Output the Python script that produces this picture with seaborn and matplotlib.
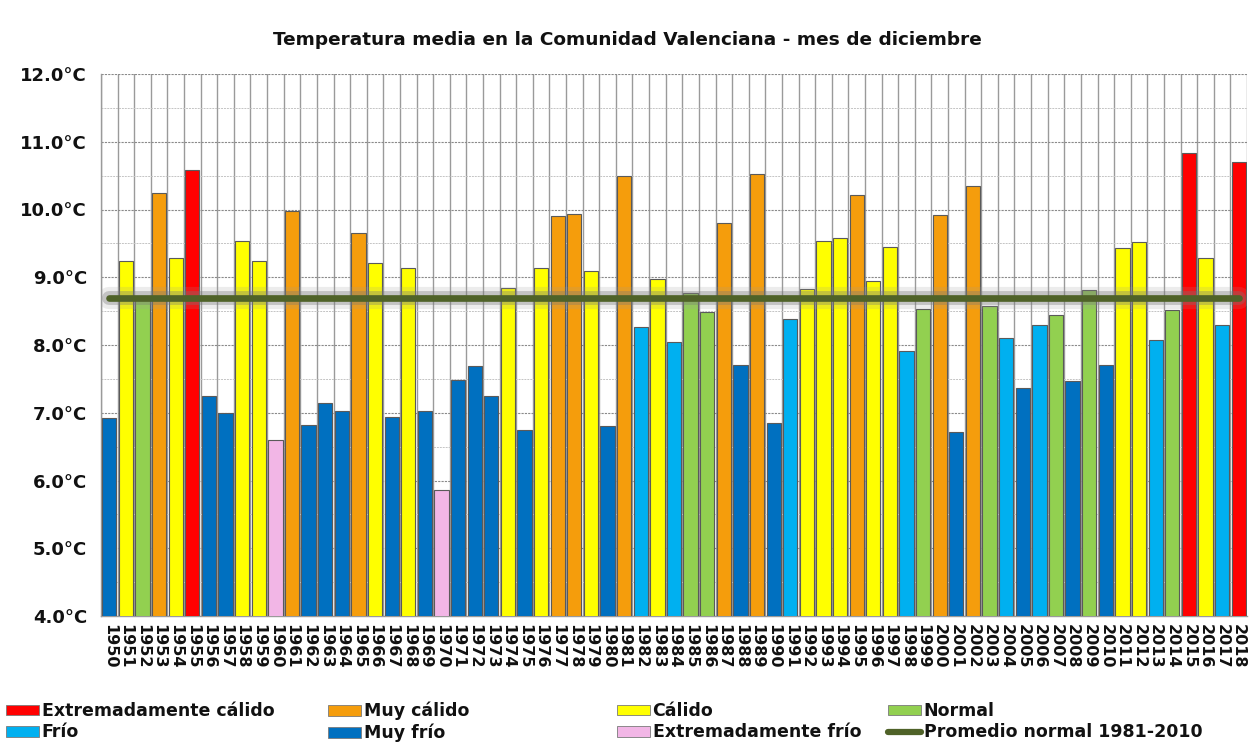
import numpy as np
import pandas as pd
import matplotlib
matplotlib.use("Agg")
import matplotlib.pyplot as plt
import matplotlib.patheffects as pe
from matplotlib.patches import Patch
from matplotlib.lines import Line2D
from matplotlib.ticker import MultipleLocator, FixedLocator
import seaborn as sns

# ---------------- data ----------------
years = list(range(1950, 2019))
temps = [6.92, 9.24, 8.72, 10.24, 9.28, 10.59, 7.25, 6.99, 9.53, 9.24,
         6.60, 9.98, 6.82, 7.14, 7.02, 9.65, 9.21, 6.94, 9.14, 7.03,
         5.86, 7.48, 7.69, 7.25, 8.84, 6.75, 9.13, 9.91, 9.93, 9.09,
         6.80, 10.50, 8.27, 8.98, 8.04, 8.77, 8.49, 9.80, 7.71, 10.53,
         6.85, 8.38, 8.83, 9.54, 9.58, 10.21, 8.95, 9.45, 7.91, 8.53,
         9.92, 6.72, 10.35, 8.57, 8.11, 7.36, 8.30, 8.45, 7.47, 8.81,
         7.71, 9.43, 9.52, 8.08, 8.51, 10.84, 9.28, 8.30, 10.70]
cats = ["MF", "C", "N", "MC", "C", "EC", "MF", "MF", "C", "C",
        "EF", "MC", "MF", "MF", "MF", "MC", "C", "MF", "C", "MF",
        "EF", "MF", "MF", "MF", "C", "MF", "C", "MC", "MC", "C",
        "MF", "MC", "F", "C", "F", "N", "N", "MC", "MF", "MC",
        "MF", "F", "C", "C", "C", "MC", "C", "C", "F", "N",
        "MC", "MF", "MC", "N", "F", "MF", "F", "N", "MF", "N",
        "MF", "C", "C", "F", "N", "EC", "C", "F", "EC"]
normal_value = 8.70

cat_labels = {"EC": "Extremadamente cálido", "MC": "Muy cálido", "C": "Cálido",
              "N": "Normal", "F": "Frío", "MF": "Muy frío",
              "EF": "Extremadamente frío"}
cat_colors = {"EC": "#ff0000", "MC": "#f59d0c", "C": "#ffff00",
              "N": "#92d050", "F": "#00b0f0", "MF": "#0070c0",
              "EF": "#f2b6e6"}
line_color = "#4f6228"
title = "Temperatura media en la Comunidad Valenciana - mes de diciembre"
line_label = "Promedio normal 1981-2010"
ytick_vals = [4.0, 5.0, 6.0, 7.0, 8.0, 9.0, 10.0, 11.0, 12.0]

df = pd.DataFrame({"year": [str(y) for y in years], "temp": temps, "cat": cats})

# ---------------- figure ----------------
sns.set_theme(style="white")
plt.rcParams["font.family"] = ["DejaVu Sans"]
fig = plt.figure(figsize=(12.54, 7.42), dpi=100)
ax = fig.add_axes([101/1254, 1 - 616/742, (1247-101)/1254, (616-74)/742])

sns.barplot(data=df, x="year", y="temp", hue="cat", palette=cat_colors,
            dodge=False, width=0.86, ax=ax, legend=False, saturation=1,
            edgecolor="#5a5a5a", linewidth=0.8, zorder=3)

ax.set_xlim(-0.5, len(years) - 0.5)
ax.set_ylim(4.0, 12.0)

# gridlines
ax.yaxis.set_major_locator(FixedLocator(ytick_vals))
ax.yaxis.set_minor_locator(MultipleLocator(0.5))
ax.set_yticklabels([f"{v:.1f}°C" for v in ytick_vals], fontsize=13,
                   fontweight="bold", color="#111111")
ax.grid(axis="y", which="major", color="#8a8a8a", linestyle=(0, (2, 1)),
        linewidth=0.8, zorder=0)
ax.grid(axis="y", which="minor", color="#c4c4c4", linestyle=(0, (2, 1)),
        linewidth=0.7, zorder=0)
ax.xaxis.set_minor_locator(FixedLocator(np.arange(-0.5, len(years), 1.0)))
ax.grid(axis="x", which="minor", color="#9a9a9a", linestyle="-",
        linewidth=1.0, zorder=1)
ax.grid(axis="x", which="major", visible=False)

ax.tick_params(axis="x", which="major", length=0, pad=6)
ax.tick_params(axis="x", which="minor", length=6, color="#9a9a9a", width=1)
ax.tick_params(axis="y", which="major", length=6, color="#9a9a9a", width=1, pad=4)
ax.tick_params(axis="y", which="minor", length=0)
for lab in ax.get_xticklabels():
    lab.set_rotation(-90)
    lab.set_fontsize(11.5)
    lab.set_fontweight("bold")
    lab.set_color("#111111")
    lab.set_va("top")
    lab.set_ha("center")

for side in ["top", "right"]:
    ax.spines[side].set_visible(False)
for side in ["left", "bottom"]:
    ax.spines[side].set_color("#9a9a9a")
    ax.spines[side].set_linewidth(1.0)
ax.set_xlabel("")
ax.set_ylabel("")

# normal line
ax.plot([0, len(years) - 1], [normal_value, normal_value], color=line_color,
        linewidth=4.8, solid_capstyle="round", zorder=5,
        path_effects=[pe.Stroke(linewidth=16, foreground="#9a9a9a", alpha=0.18),
                      pe.Stroke(linewidth=10, foreground="#777777", alpha=0.35),
                      pe.Normal()])

fig.text(0.5, 1 - 40/742, title, ha="center", va="center", fontsize=13.3,
         fontweight="bold", color="#111111")

# legend (4 columns x 2 rows)
groups = [["EC", "F"], ["MC", "MF"], ["C", "EF"], ["N", None]]
xs = [6/1254, 328/1254, 617/1254, 888/1254]
for keys, x in zip(groups, xs):
    handles = []
    for k in keys:
        if k is None:
            handles.append(Line2D([0], [0], color=line_color, linewidth=4.5,
                                  label=line_label))
        else:
            handles.append(Patch(facecolor=cat_colors[k], edgecolor="#7a7a7a",
                                 linewidth=0.6, label=cat_labels[k]))
    leg = fig.legend(handles=handles, loc="upper left",
                     bbox_to_anchor=(x, 1 - 702/742), frameon=False,
                     prop={"weight": "bold", "size": 12.5}, handlelength=1.9,
                     handleheight=0.55, handletextpad=0.15, labelspacing=0.2,
                     borderaxespad=0, borderpad=0)
    for t in leg.get_texts():
        t.set_color("#111111")

fig.savefig("out.png", dpi=100, facecolor="white")
